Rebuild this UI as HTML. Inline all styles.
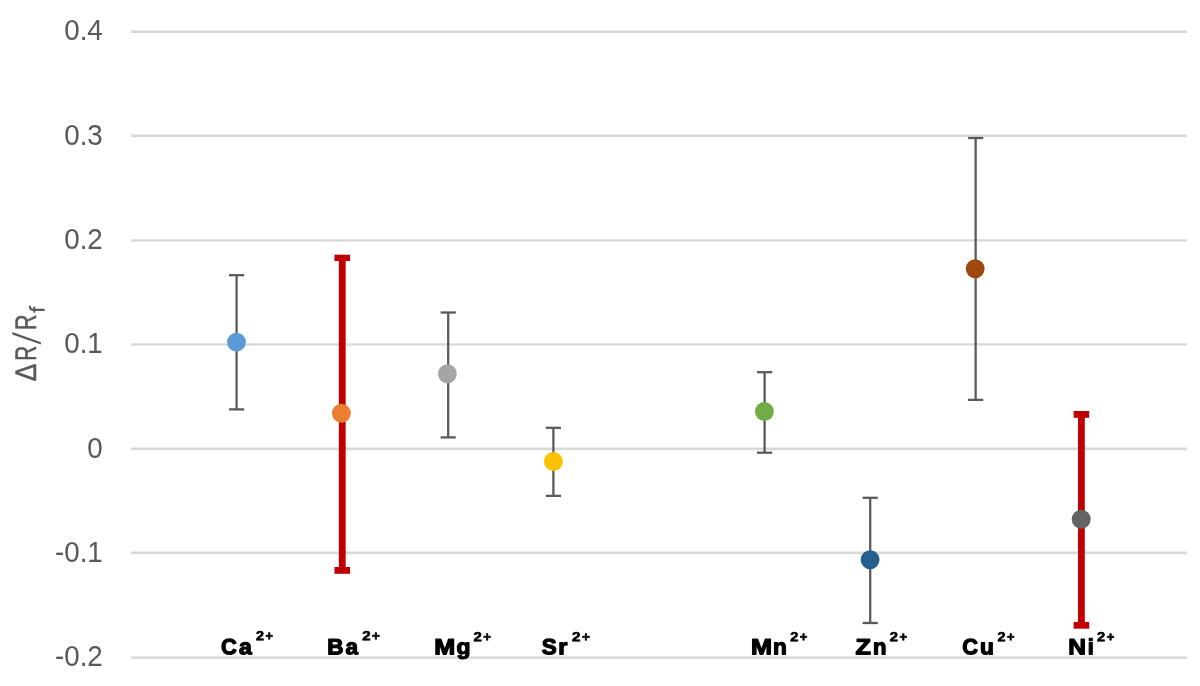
<!DOCTYPE html>
<html><head><meta charset="utf-8"><title>Chart</title>
<style>html,body{margin:0;padding:0;background:#fff;}svg{display:block;}text{font-family:"Liberation Sans",sans-serif;}.t{filter:grayscale(1);}</style></head><body>
<svg width="1200" height="686" viewBox="0 0 1200 686">
<rect x="0" y="0" width="1200" height="686" fill="#ffffff"/>
<g fill="#d8d8d8">
<rect x="131.0" y="30.40" width="1056.0" height="2.60"/>
<rect x="131.0" y="134.50" width="1056.0" height="2.65"/>
<rect x="131.0" y="239.30" width="1056.0" height="2.30"/>
<rect x="131.0" y="343.30" width="1056.0" height="2.30"/>
<rect x="131.0" y="447.50" width="1056.0" height="2.65"/>
<rect x="131.0" y="551.50" width="1056.0" height="2.65"/>
<rect x="131.0" y="656.40" width="1056.0" height="2.45"/>
</g>
<g class="t" fill="#595959" font-size="30.2" text-anchor="end">
<text transform="translate(102.8,40.25) scale(0.92,1)">0.4</text>
<text transform="translate(102.8,144.58) scale(0.92,1)">0.3</text>
<text transform="translate(102.8,248.92) scale(0.92,1)">0.2</text>
<text transform="translate(102.8,353.25) scale(0.92,1)">0.1</text>
<text transform="translate(102.8,457.58) scale(0.92,1)">0</text>
<text transform="translate(102.8,561.92) scale(0.92,1)">-0.1</text>
<text transform="translate(102.8,666.25) scale(0.92,1)">-0.2</text>
</g>
<g class="t" fill="#595959">
<g transform="translate(36.05,381.0) rotate(-89.95)" stroke="#595959" stroke-width="0.5" stroke-linejoin="round">
<text transform="translate(-0.23,0.00) rotate(0.03) scale(0.8862,1)" font-size="29.70">Δ</text>
<text transform="translate(20.25,0.00) rotate(0.03) scale(0.6975,1)" font-size="29.70">R</text>
<text transform="translate(51.08,0.00) rotate(0.03) scale(0.7259,1)" font-size="29.70">R</text>
</g>
<polygon points="12.35,332.1 12.35,334.4 40.95,344.6 40.95,342.3"/>
<path d="M44.6,309.8 L33.0,309.8 Q29.8,309.8 29.9,305.7" fill="none" stroke="#595959" stroke-width="2.2"/>
<rect x="33.25" y="306.8" width="2" height="5.9"/>
</g>
<g fill="#595959">
<rect x="235.47" y="275.20" width="2.25" height="134.20"/>
<rect x="229.00" y="274.07" width="15.20" height="2.25"/>
<rect x="229.00" y="408.27" width="15.20" height="2.25"/>
</g>
<circle cx="236.50" cy="342.10" r="9.45" fill="#5b9bd5"/>
<g fill="#c00000">
<rect x="338.85" y="257.60" width="6.80" height="312.80"/>
<rect x="334.45" y="254.70" width="15.60" height="6.30"/>
<rect x="334.45" y="567.00" width="15.60" height="6.80"/>
</g>
<circle cx="341.40" cy="413.20" r="9.45" fill="#ed7d31"/>
<g fill="#595959">
<rect x="447.07" y="312.50" width="2.25" height="124.90"/>
<rect x="440.60" y="311.38" width="15.20" height="2.25"/>
<rect x="440.60" y="436.27" width="15.20" height="2.25"/>
</g>
<circle cx="447.40" cy="373.80" r="9.45" fill="#a5a5a5"/>
<g fill="#595959">
<rect x="552.27" y="427.80" width="2.25" height="68.10"/>
<rect x="545.80" y="426.68" width="15.20" height="2.25"/>
<rect x="545.80" y="494.77" width="15.20" height="2.25"/>
</g>
<circle cx="553.40" cy="461.55" r="9.45" fill="#ffc000"/>
<g fill="#595959">
<rect x="763.48" y="372.20" width="2.25" height="80.50"/>
<rect x="757.00" y="371.07" width="15.20" height="2.25"/>
<rect x="757.00" y="451.57" width="15.20" height="2.25"/>
</g>
<circle cx="764.40" cy="411.45" r="9.45" fill="#70ad47"/>
<g fill="#595959">
<rect x="869.08" y="497.80" width="2.25" height="125.20"/>
<rect x="862.60" y="496.68" width="15.20" height="2.25"/>
<rect x="862.60" y="621.88" width="15.20" height="2.25"/>
</g>
<circle cx="870.10" cy="559.80" r="9.45" fill="#255e91"/>
<g fill="#595959">
<rect x="974.52" y="138.00" width="2.25" height="261.90"/>
<rect x="968.05" y="136.88" width="15.20" height="2.25"/>
<rect x="968.05" y="398.77" width="15.20" height="2.25"/>
</g>
<circle cx="975.20" cy="268.70" r="9.45" fill="#9e480e"/>
<g fill="#c00000">
<rect x="1078.00" y="414.40" width="6.80" height="210.90"/>
<rect x="1073.60" y="411.00" width="15.60" height="6.80"/>
<rect x="1073.60" y="621.90" width="15.60" height="6.80"/>
</g>
<circle cx="1081.20" cy="519.30" r="9.45" fill="#636363"/>
<g class="t" fill="#000" stroke="#000" stroke-width="1.25" stroke-linejoin="round" font-weight="bold">
<text transform="translate(221.10,654.30) rotate(0.03) scale(0.9928,1)" font-size="22.00">C</text>
<text transform="translate(239.05,654.30) rotate(0.03) scale(1.0443,1)" font-size="22.00">a</text>
<text transform="translate(255.95,640.30) rotate(0.03) scale(1.0857,1)" font-size="13.20" stroke-width="0.70">2</text>
<text transform="translate(265.41,640.30) rotate(0.03) scale(0.9669,1)" font-size="13.20" stroke-width="0.70">+</text>
<text transform="translate(327.32,654.30) rotate(0.03) scale(1.0248,1)" font-size="22.00">B</text>
<text transform="translate(345.42,654.30) rotate(0.03) scale(1.0230,1)" font-size="22.00">a</text>
<text transform="translate(362.23,640.30) rotate(0.03) scale(1.1383,1)" font-size="13.20" stroke-width="0.70">2</text>
<text transform="translate(372.07,640.30) rotate(0.03) scale(1.0142,1)" font-size="13.20" stroke-width="0.70">+</text>
<text transform="translate(434.30,654.30) rotate(0.03) scale(1.1435,1)" font-size="22.00">M</text>
<text transform="translate(456.48,654.30) rotate(0.03) scale(1.0439,1)" font-size="22.00">g</text>
<text transform="translate(473.54,641.20) rotate(0.03) scale(1.1233,1)" font-size="13.20" stroke-width="0.70">2</text>
<text transform="translate(483.27,641.20) rotate(0.03) scale(1.0007,1)" font-size="13.20" stroke-width="0.70">+</text>
<text transform="translate(541.78,654.30) rotate(0.03) scale(1.0204,1)" font-size="22.00">S</text>
<text transform="translate(558.17,654.30) rotate(0.03) scale(1.0696,1)" font-size="22.00">r</text>
<text transform="translate(572.02,641.20) rotate(0.03) scale(1.1533,1)" font-size="13.20" stroke-width="0.70">2</text>
<text transform="translate(581.98,641.20) rotate(0.03) scale(1.0277,1)" font-size="13.20" stroke-width="0.70">+</text>
<text transform="translate(750.94,654.30) rotate(0.03) scale(1.1474,1)" font-size="22.00">M</text>
<text transform="translate(772.93,654.30) rotate(0.03) scale(1.0307,1)" font-size="22.00">n</text>
<text transform="translate(790.15,641.20) rotate(0.03) scale(1.1007,1)" font-size="13.20" stroke-width="0.70">2</text>
<text transform="translate(799.72,641.20) rotate(0.03) scale(0.9804,1)" font-size="13.20" stroke-width="0.70">+</text>
<text transform="translate(855.57,654.30) rotate(0.03) scale(1.1482,1)" font-size="22.00">Z</text>
<text transform="translate(872.97,654.30) rotate(0.03) scale(1.0024,1)" font-size="22.00">n</text>
<text transform="translate(889.74,641.20) rotate(0.03) scale(1.1158,1)" font-size="13.20" stroke-width="0.70">2</text>
<text transform="translate(899.42,641.20) rotate(0.03) scale(0.9939,1)" font-size="13.20" stroke-width="0.70">+</text>
<text transform="translate(962.13,654.30) rotate(0.03) scale(0.9907,1)" font-size="22.00">C</text>
<text transform="translate(980.02,654.30) rotate(0.03) scale(1.0307,1)" font-size="22.00">u</text>
<text transform="translate(997.45,641.20) rotate(0.03) scale(1.0857,1)" font-size="13.20" stroke-width="0.70">2</text>
<text transform="translate(1006.91,641.20) rotate(0.03) scale(0.9669,1)" font-size="13.20" stroke-width="0.70">+</text>
<text transform="translate(1068.24,654.30) rotate(0.03) scale(1.1134,1)" font-size="22.00">N</text>
<text transform="translate(1087.82,654.30) rotate(0.03) scale(0.9773,1)" font-size="22.00">i</text>
<text transform="translate(1097.04,641.20) rotate(0.03) scale(1.1045,1)" font-size="13.20" stroke-width="0.70">2</text>
<text transform="translate(1106.64,641.20) rotate(0.03) scale(0.9838,1)" font-size="13.20" stroke-width="0.70">+</text>
</g>
</svg></body></html>
